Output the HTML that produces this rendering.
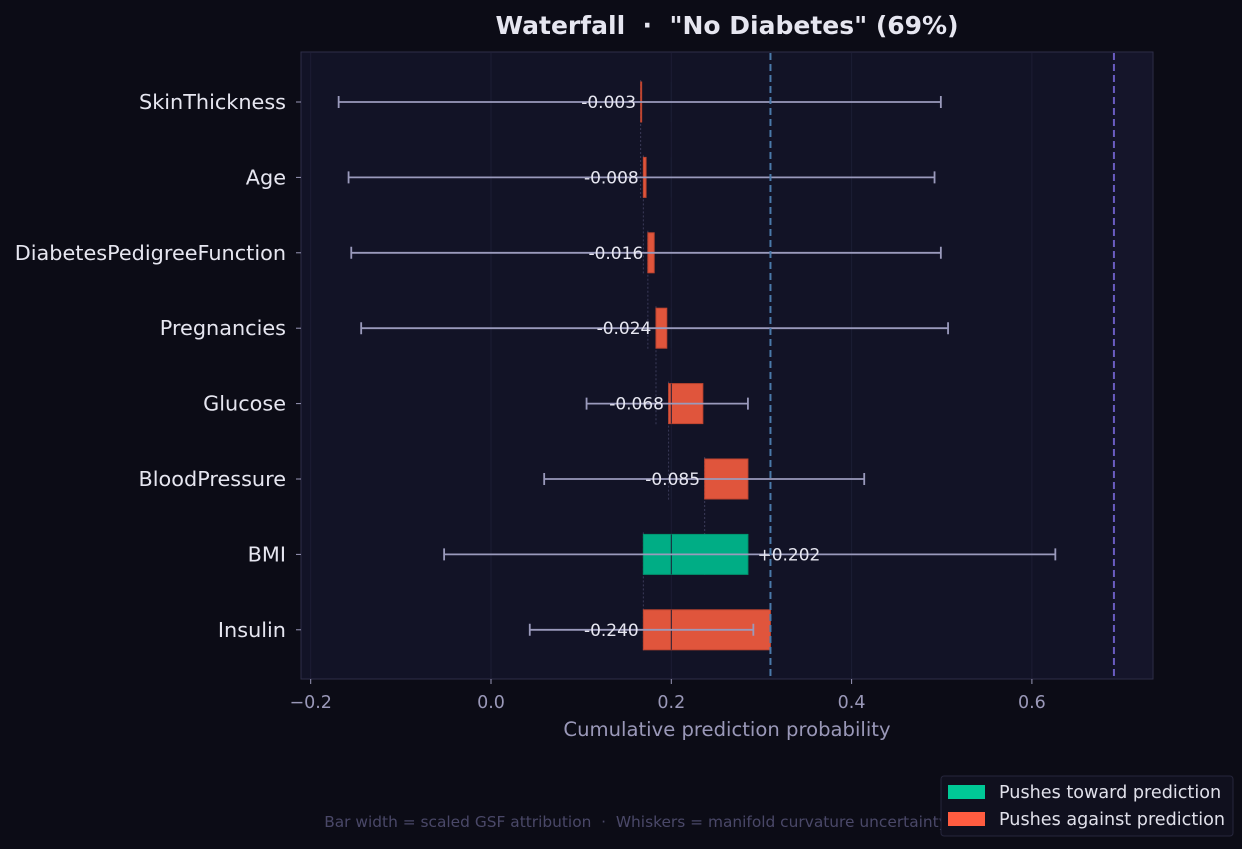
<!DOCTYPE html>
<html><head><meta charset="utf-8"><style>
body{margin:0;background:#0c0c16;width:1242px;height:845px;overflow:hidden;font-family:"DejaVu Sans","Liberation Sans",sans-serif}
svg text{font-family:"DejaVu Sans","Liberation Sans",sans-serif;white-space:pre}
</style></head><body>
<svg width="1242" height="845" id="chart">
<rect width="1242" height="845" fill="#0c0c16"/>
<text x="727" y="34" text-anchor="middle" font-size="25" font-weight="bold" fill="#e6e6f0">Waterfall  ·  "No Diabetes" (69%)</text>
<rect x="301" y="52" width="852" height="627" fill="#121326" stroke="#2e2e48"/>
<rect x="1114" y="53" width="38" height="625" fill="#15152a"/>
<g id="grid"></g><g id="marks"></g><g id="axes"></g>
<text x="727" y="736" text-anchor="middle" font-size="19.6" fill="#9a98b8">Cumulative prediction probability</text>
<text x="636" y="827" text-anchor="middle" font-size="15.4" fill="#4a4868">Bar width = scaled GSF attribution  ·  Whiskers = manifold curvature uncertainty</text>
<g>
<rect x="941" y="776" width="292" height="60" rx="3" fill="#10101e" stroke="#26263c"/>
<rect x="948" y="785" width="37" height="14" fill="#00c896"/>
<text x="999" y="798" font-size="17.6" fill="#e0e0ea">Pushes toward prediction</text>
<rect x="948" y="812" width="37" height="14" fill="#ff5c40"/>
<text x="999" y="825" font-size="17.6" fill="#e0e0ea">Pushes against prediction</text>
</g>
</svg>
<script>
const features=["SkinThickness","Age","DiabetesPedigreeFunction","Pregnancies","Glucose","BloodPressure","BMI","Insulin"];
const attributions=[-0.003,-0.008,-0.016,-0.024,-0.068,-0.085,0.202,-0.240];
const barStart=[0.166,0.169,0.174,0.183,0.197,0.237,0.169,0.169];
const barEnd=[0.167,0.172,0.181,0.195,0.235,0.285,0.285,0.310];
const whiskerLow=[-0.169,-0.158,-0.155,-0.144,0.106,0.059,-0.052,0.043];
const whiskerHigh=[0.499,0.492,0.499,0.507,0.285,0.414,0.626,0.291];
const xTicks=[-0.2,0,0.2,0.4,0.6];
const baseValue=0.310, predValue=0.691;
const NS="http://www.w3.org/2000/svg";
const X=v=>491+v*901.5;
const Y=i=>102+i*75.4;
function mk(tag,attrs,parent,txt){const e=document.createElementNS(NS,tag);for(const k in attrs)e.setAttribute(k,attrs[k]);if(txt!=null)e.textContent=txt;document.getElementById(parent).appendChild(e);return e;}
xTicks.forEach(t=>{
 let g=mk('line',{x1:X(t),x2:X(t),y1:53,y2:678,stroke:'#1c1d34','stroke-width':1},'grid');
 
 let tk=mk('line',{x1:X(t),x2:X(t),y1:679,y2:684,stroke:'#9a98b8'},'axes');
 
 let l=mk('text',{x:X(t),y:708,'text-anchor':'middle','font-size':17.5,fill:'#9a98b8'},'axes',t<0?'\u2212'+Math.abs(t).toFixed(1):t.toFixed(1));
 
});
features.forEach((f,i)=>{
 const y=Y(i);
 if(i<features.length-1){
  let c=mk('line',{x1:X(barStart[i]),x2:X(barStart[i]),y1:y-22,y2:Y(i+1)+22,stroke:'#3a3a58','stroke-dasharray':'2,2'},'marks');
  }
 let b=mk('rect',{x:X(barStart[i]),y:y-20,width:Math.max(1,X(barEnd[i])-X(barStart[i])),height:40,fill:attributions[i]>=0?'#00ad85':'#e0553c',stroke:attributions[i]>=0?'#00966f':'#c04530'},'marks');
 
 let gl=mk('line',{x1:X(0.2),x2:X(0.2),y1:y-20,y2:y+20,stroke:'#1c1d34'},'marks');
 
 let w=mk('path',{d:`M${X(whiskerLow[i])},${y}H${X(whiskerHigh[i])}M${X(whiskerLow[i])},${y-6}v12M${X(whiskerHigh[i])},${y-6}v12`,stroke:'#9a9abc','stroke-width':1.8,fill:'none'},'marks');
 
 const a=attributions[i];
 const lx=a<0?X(barStart[i])-32:X(barEnd[i])+41;
 let t=mk('text',{x:lx,y:y+6,'text-anchor':'middle','font-size':17,fill:'#e6e6f0'},'marks',(a<0?'-':'+')+Math.abs(a).toFixed(3));
 
 let tk=mk('line',{x1:296,x2:301,y1:y,y2:y,stroke:'#9a98b8'},'axes');
 
 let l=mk('text',{x:286,y:y+7,'text-anchor':'end','font-size':20.8,fill:'#e6e6f0'},'axes',f);
 
});
let bl=mk('line',{x1:X(baseValue),x2:X(baseValue),y1:53,y2:678,stroke:'#4a7aaa','stroke-width':2,'stroke-dasharray':'7,4'},'marks');

let pl=mk('line',{x1:X(predValue),x2:X(predValue),y1:53,y2:678,stroke:'#6a5cc0','stroke-width':2,'stroke-dasharray':'7,4'},'marks');

</script>
</body></html>
